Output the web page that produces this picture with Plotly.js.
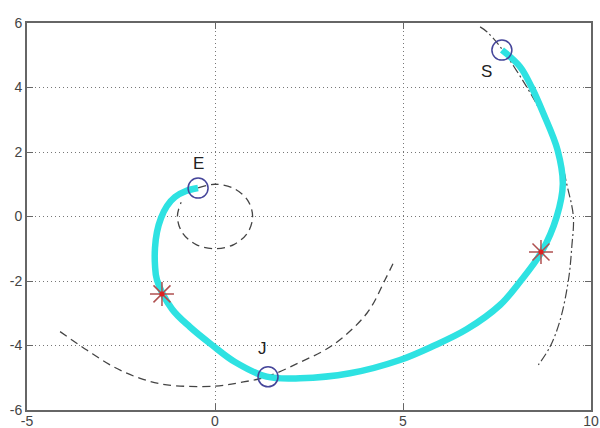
<!DOCTYPE html>
<html><head><meta charset="utf-8">
<script src="https://cdn.plot.ly/plotly-3.0.1.min.js"></script>
<style>body{margin:0;background:#fff}#c{width:600px;height:428px}</style>
</head><body><div id="c"></div>
<script>
// Thick cyan path (S -> J -> E)
const pathX = [7.633, 8.112, 8.423, 8.731, 9.110, 9.250, 9.088, 8.689, 8.112, 7.580, 6.694, 5.806, 4.920, 3.590, 2.261, 1.375, 0.532, -0.080, -0.665, -1.144, -1.543, -1.596, -1.596, -1.543, -1.436, -1.277, -1.064, -0.771, -0.452];
const pathY = [5.163, 4.645, 4.006, 3.200, 2.062, 1.000, -0.006, -1.091, -2.022, -2.744, -3.498, -4.016, -4.450, -4.862, -5.017, -4.967, -4.512, -3.984, -3.426, -2.868, -1.969, -1.504, -0.977, -0.481, -0.047, 0.326, 0.605, 0.791, 0.884];
// Small dashed circle around origin
const ringX = [-0.45, 0.0, 0.5, 0.87, 1.0, 0.87, 0.5, 0.0, -0.5, -0.87, -1.0, -0.9];
const ringY = [0.89, 1.0, 0.87, 0.5, 0.0, -0.5, -0.87, -1.0, -0.87, -0.5, 0.0, 0.44];
// Large dashed arc (bottom)
const arcX = [-4.12, -3.41, -2.70, -1.99, -1.28, 0.0, 0.66, 1.37, 2.26, 3.14, 4.04, 4.52, 4.79];
const arcY = [-3.57, -4.14, -4.66, -5.02, -5.22, -5.26, -5.15, -4.97, -4.52, -3.98, -3.0, -1.97, -1.32];
// Dash-dot arc (right)
const ddX = [7.05, 7.23, 7.58, 8.29, 8.82, 9.15, 9.35, 9.53, 9.49, 9.40, 9.18, 8.91, 8.60];
const ddY = [5.88, 5.73, 5.27, 4.02, 2.89, 2.0, 1.03, 0.0, -0.93, -1.97, -3.21, -4.04, -4.60];
// Labelled points
const ptNames = ["S", "J", "E"];
const ptX = [7.63, 1.41, -0.45];
const ptY = [5.16, -4.97, 0.88];
const starX = [8.67, -1.41];
const starY = [-1.10, -2.40];
const xTicks = [-5, 0, 5, 10];
const yTicks = [-6, -4, -2, 0, 2, 4, 6];

const traces = [
  {x: arcX, y: arcY, mode: 'lines', line: {color: '#444', width: 1.3, dash: '8px,5px', shape: 'spline'}, hoverinfo: 'skip'},
  {x: ringX, y: ringY, mode: 'lines', line: {color: '#444', width: 1.3, dash: '8px,5px', shape: 'spline'}, hoverinfo: 'skip'},
  {x: ddX, y: ddY, mode: 'lines', line: {color: '#444', width: 1.2, dash: '9px,3px,2px,3px', shape: 'spline'}, hoverinfo: 'skip'},
  {x: pathX, y: pathY, mode: 'lines', line: {color: '#2ee2e2', width: 6.5, shape: 'spline', smoothing: 1}, hoverinfo: 'skip'},
  {x: ptX, y: ptY, mode: 'markers', marker: {symbol: 'circle-open', size: 20, line: {color: '#45459a', width: 1.5}, color: '#45459a'}},
  {x: starX, y: starY, mode: 'markers', marker: {symbol: 'asterisk-open', size: 20, line: {color: '#b05050', width: 1.5}, color: '#b05050'}},
  {x: starX, y: starY, mode: 'markers', marker: {symbol: 'circle', size: 5, color: '#e02020'}}
];

const ann = ptNames.map((t, i) => ({x: ptX[i], y: ptY[i], text: t, showarrow: false,
  xshift: [-15, -6, 0][i], yshift: [-21, 28, 25][i], font: {family: 'Arial, Liberation Sans', size: 17, color: '#222'}}));

const axis = {
  showline: true, linecolor: '#666', linewidth: 2, mirror: 'ticks',
  ticks: 'inside', ticklen: 6, tickcolor: '#666', tickwidth: 1,
  showgrid: true, gridcolor: '#777', griddash: '1px,3px', gridwidth: 1,
  zeroline: false, tickfont: {family: 'Arial, Liberation Sans', size: 14, color: '#444'}
};

Plotly.newPlot('c', traces, {
  width: 600, height: 428,
  margin: {l: 27, r: 9, t: 23, b: 18},
  paper_bgcolor: '#fff', plot_bgcolor: '#fff', showlegend: false,
  xaxis: Object.assign({}, axis, {range: [-5, 10], tickvals: xTicks, ticktext: xTicks.map(String), ticklabelstandoff: -3}),
  yaxis: Object.assign({}, axis, {range: [-6, 6], tickvals: yTicks, ticktext: yTicks.map(String)}),
  annotations: ann
}, {staticPlot: true});
</script></body></html>
